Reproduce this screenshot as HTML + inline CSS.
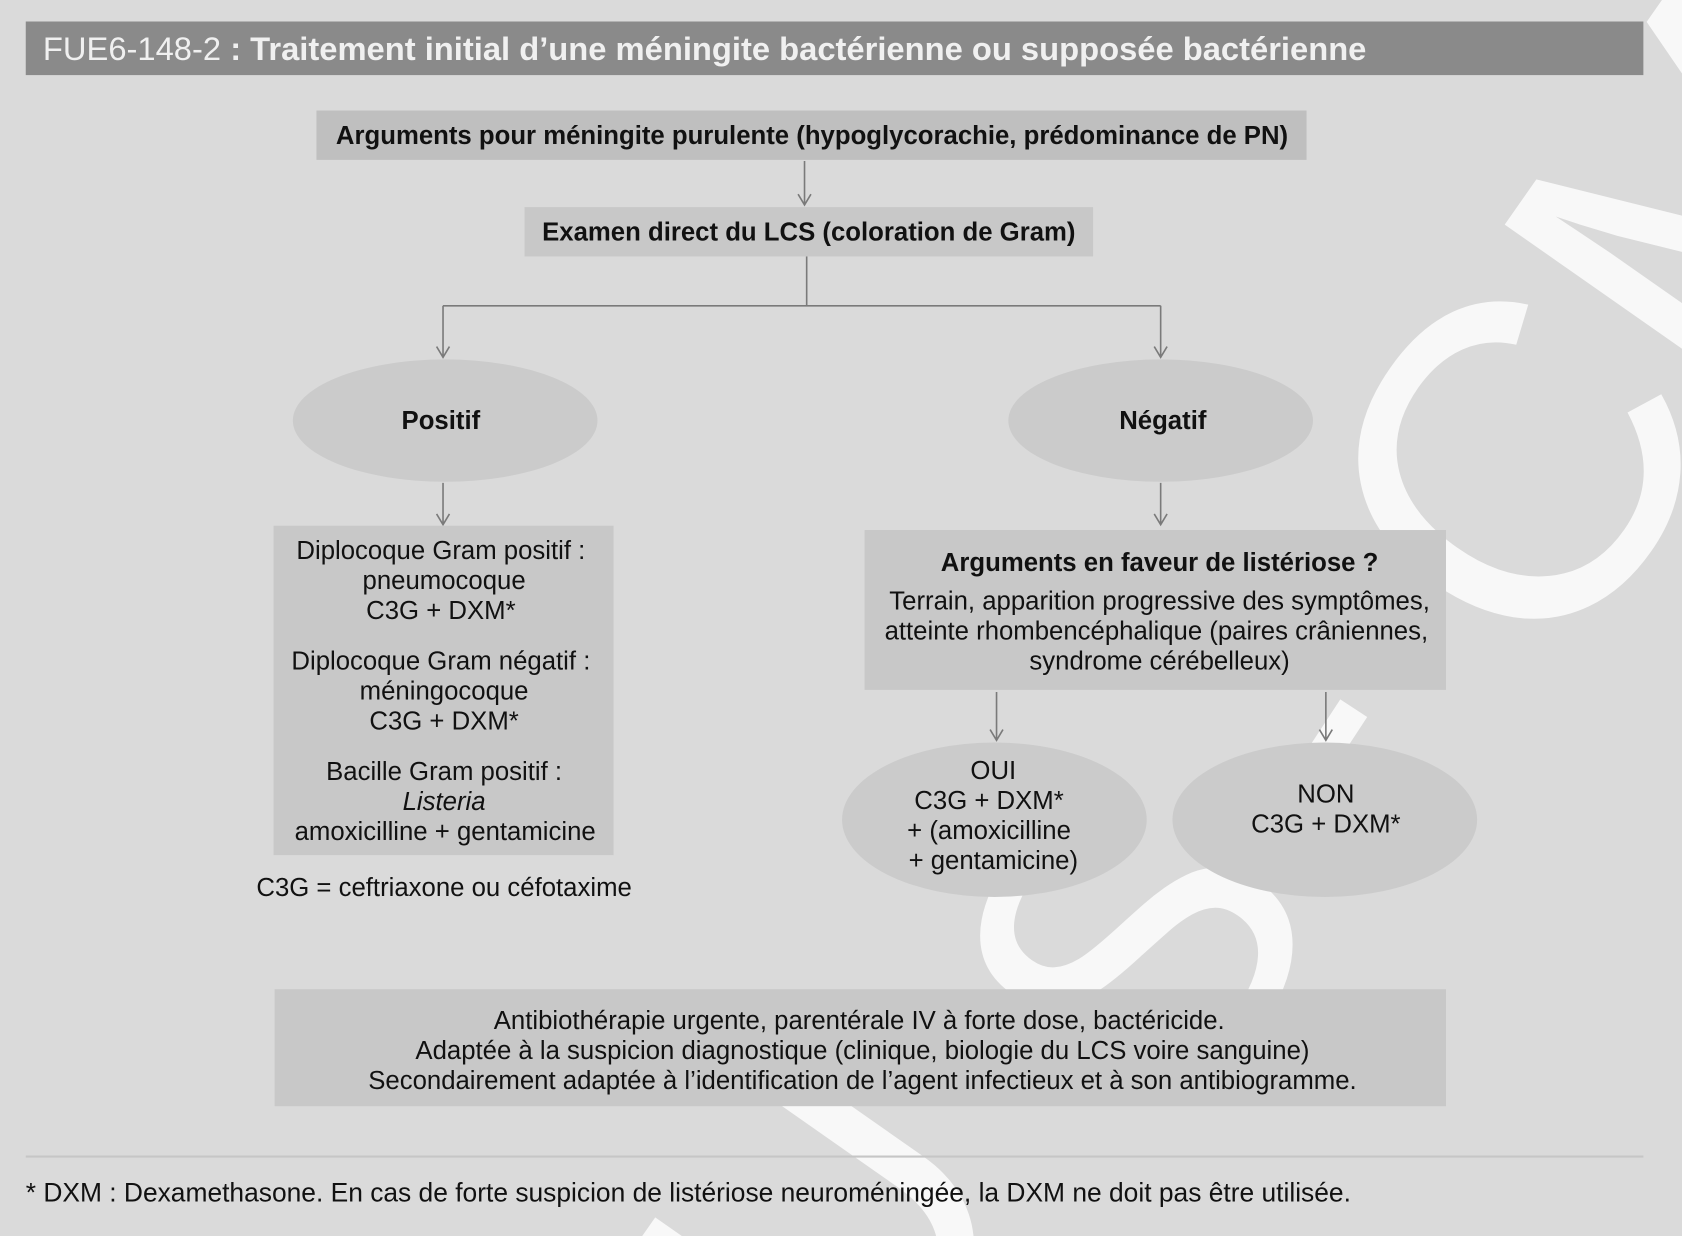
<!DOCTYPE html>
<html><head><meta charset="utf-8"><style>
html,body{margin:0;padding:0;background:#dadada;width:1682px;height:1236px;overflow:hidden}
#w{width:1568px;height:1152px;transform:scale(1.07270,1.07292);transform-origin:0 0;overflow:hidden}
svg{display:block;overflow:hidden}
text{font-family:"Liberation Sans",sans-serif;font-size:24px;fill:#111}
.b{font-weight:bold}
</style></head><body><div id="w">
<svg width="1568" height="1152" viewBox="0 0 1568 1152" xmlns="http://www.w3.org/2000/svg">
<rect width="1568" height="1152" fill="#dadada"/>

<g style="opacity:0.8" text-anchor="middle">
<text x="0" y="0" transform="translate(880,1230) rotate(-55)" style="font-size:400px;fill:#ffffff">U</text>
<text x="0" y="0" transform="translate(1170,960) rotate(-55)" style="font-size:400px;fill:#ffffff">S</text>
<line x1="1190" y1="770" x2="1262" y2="660" stroke="#fff" stroke-width="30"/>
<text x="0" y="0" transform="translate(1530,520) rotate(-55)" style="font-size:420px;fill:#ffffff">C</text>
<text x="0" y="0" transform="translate(1720,260) rotate(-55)" style="font-size:420px;fill:#ffffff">M</text>
</g>

<rect x="24" y="20" width="1508" height="50" fill="#8a8a8a"/>
<text x="40" y="56" style="font-size:30.5px;fill:#f0f0f0"><tspan>FUE6-148-2</tspan><tspan style="font-weight:bold"> : Traitement initial d’une méningite bactérienne ou supposée bactérienne</tspan></text>

<g fill="none" stroke="#7a7a7a" stroke-width="1.5">
<path d="M750 150V191M744 181L750 191L756 181"/>
<path d="M752 239V285M413 285H1082M413 285V333M1082 285V333M407 323L413 333L419 323M1076 323L1082 333L1088 323"/>
<path d="M413 450V489M407 479L413 489L419 479M1082 450V489M1076 479L1082 489L1088 479"/>
<path d="M929 645V690M923 680L929 690L935 680M1236 645V690M1230 680L1236 690L1242 680"/>
</g>

<rect x="295" y="103" width="923" height="46" fill="#bfbfbf"/>
<text class="b" x="757" y="134" text-anchor="middle">Arguments pour méningite purulente (hypoglycorachie, prédominance de PN)</text>
<rect x="489" y="193" width="530" height="46" fill="#c8c8c8"/>
<text class="b" x="754" y="224" text-anchor="middle">Examen direct du LCS (coloration de Gram)</text>

<ellipse cx="415" cy="392" rx="142" ry="57" fill="#cbcbcb"/>
<text class="b" x="411" y="400" text-anchor="middle">Positif</text>
<ellipse cx="1082" cy="392" rx="142" ry="57" fill="#cbcbcb"/>
<text class="b" x="1084" y="400" text-anchor="middle">Négatif</text>

<rect x="255" y="490" width="317" height="307" fill="#c8c8c8"/>
<g text-anchor="middle">
<text x="411" y="521">Diplocoque Gram positif :</text>
<text x="414" y="549">pneumocoque</text>
<text x="411" y="577">C3G + DXM*</text>
<text x="411" y="624">Diplocoque Gram négatif :</text>
<text x="414" y="652">méningocoque</text>
<text x="414" y="680">C3G + DXM*</text>
<text x="414" y="727">Bacille Gram positif :</text>
<text x="414" y="755" font-style="italic">Listeria</text>
<text x="415" y="783">amoxicilline + gentamicine</text>
<text x="414" y="835">C3G = ceftriaxone ou céfotaxime</text>
</g>

<rect x="806" y="494" width="542" height="149" fill="#c8c8c8"/>
<g text-anchor="middle">
<text class="b" x="1081" y="532">Arguments en faveur de listériose ?</text>
<text x="1081" y="568">Terrain, apparition progressive des symptômes,</text>
<text x="1078" y="596">atteinte rhombencéphalique (paires crâniennes,</text>
<text x="1081" y="624">syndrome cérébelleux)</text>
</g>

<ellipse cx="927" cy="764" rx="142" ry="72" fill="#cbcbcb"/>
<ellipse cx="1235" cy="764" rx="142" ry="72" fill="#cbcbcb"/>
<g text-anchor="middle">
<text x="926" y="726">OUI</text>
<text x="922" y="754">C3G + DXM*</text>
<text x="922" y="782">+ (amoxicilline</text>
<text x="926" y="810">+ gentamicine)</text>
<text x="1236" y="748">NON</text>
<text x="1236" y="776">C3G + DXM*</text>
</g>

<rect x="256" y="922" width="1092" height="109" fill="#c8c8c8"/>
<g text-anchor="middle">
<text x="801" y="959">Antibiothérapie urgente, parentérale IV à forte dose, bactéricide.</text>
<text x="804" y="987">Adaptée à la suspicion diagnostique (clinique, biologie du LCS voire sanguine)</text>
<text x="804" y="1015">Secondairement adaptée à l’identification de l’agent infectieux et à son antibiogramme.</text>
</g>

<line x1="24" y1="1078" x2="1532" y2="1078" stroke="#c6c6c6" stroke-width="2"/>
<text x="24" y="1120" style="font-size:24.6px">* DXM : Dexamethasone. En cas de forte suspicion de listériose neuroméningée, la DXM ne doit pas être utilisée.</text>
</svg>
</div></body></html>
